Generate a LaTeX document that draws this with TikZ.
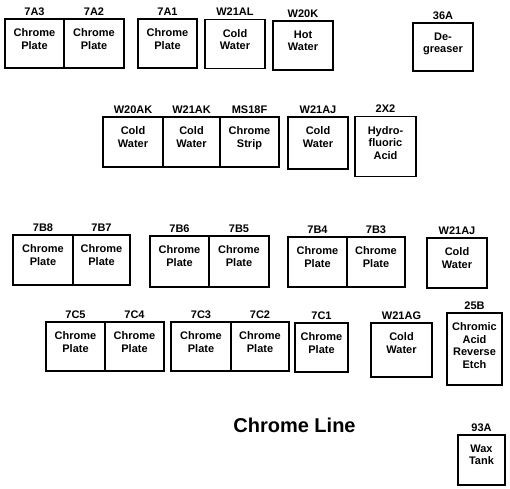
\documentclass[tikz,border=0pt]{standalone}
\usepackage{fontspec}
\setmainfont{Liberation Sans}
\tikzset{
  tankbox/.style={draw=black, line width=1.8pt, rectangle, inner sep=0pt, fill=none},
  tanklabel/.style={anchor=south, inner sep=0pt, yshift=2.5pt, font=\fontsize{11}{12}\selectfont\bfseries},
  tanktext/.style={anchor=north, inner sep=0pt, align=center, font=\fontsize{11}{12.5}\selectfont\bfseries},
  titletext/.style={inner sep=0pt, font=\fontsize{20}{24}\selectfont\bfseries}
}
\newcommand\tank[7]{%
  \node[tankbox, minimum width=#4pt, minimum height=#5pt] (#1) at (#2,#3) {};
  \node[tanklabel] (#1-l) at (#1.north) {#6};
  \node[tanktext] (#1-t) at ([yshift=-10.5pt]#1.north) {#7};
}
\begin{document}
\begin{tikzpicture}[x=1pt,y=-1pt]
\useasboundingbox[fill=white] (0,0) rectangle (510,488);
% Row 1
\tank{a3}{34.5}{43.5}{59}{49}{7A3}{Chrome\\Plate}
\tank{a2}{94}{43.5}{60}{49}{7A2}{Chrome\\Plate}
\tank{a1}{167.5}{43.5}{59}{49}{7A1}{Chrome\\Plate}
\tank{wal}{235}{44}{60}{49}{W21AL}{Cold\\Water}
\tank{wk}{303}{45.5}{60}{49}{W20K}{Hot\\Water}
\tank{dg}{443}{47}{60}{48}{36A}{De-\\greaser}
% Row 2
\tank{wak0}{133}{142}{60}{50}{W20AK}{Cold\\Water}
\tank{wak1}{191.5}{142}{57}{50}{W21AK}{Cold\\Water}
\tank{ms}{249.5}{142}{59}{50}{MS18F}{Chrome\\Strip}
\tank{waj1}{318}{143}{60}{52}{W21AJ}{Cold\\Water}
\tank{hf}{385.5}{146.5}{61}{60}{2X2}{Hydro-\\fluoric\\Acid}
% Row 3
\tank{b8}{43}{260}{60}{50}{7B8}{Chrome\\Plate}
\tank{b7}{101.5}{260}{57}{50}{7B7}{Chrome\\Plate}
\tank{b6}{179.5}{261.5}{59}{51}{7B6}{Chrome\\Plate}
\tank{b5}{239}{261.5}{60}{51}{7B5}{Chrome\\Plate}
\tank{b4}{317.5}{262}{59}{50}{7B4}{Chrome\\Plate}
\tank{b3}{376}{262}{58}{50}{7B3}{Chrome\\Plate}
\tank{waj2}{457}{263}{60}{50}{W21AJ}{Cold\\Water}
% Row 4
\tank{c5}{75.5}{346.5}{59}{49}{7C5}{Chrome\\Plate}
\tank{c4}{134.5}{346.5}{59}{49}{7C4}{Chrome\\Plate}
\tank{c3}{201}{346.5}{60}{49}{7C3}{Chrome\\Plate}
\tank{c2}{260}{346.5}{58}{49}{7C2}{Chrome\\Plate}
\tank{c1}{321.5}{347.5}{53}{49}{7C1}{Chrome\\Plate}
\tank{wag}{401.5}{350}{61}{54}{W21AG}{Cold\\Water}
\tank{ca}{474.5}{349}{55}{72}{25B}{Chromic\\Acid\\Reverse\\Etch}
% Wax tank
\tank{wax}{481.5}{460}{47}{50}{93A}{Wax\\Tank}
% Title
\node[titletext] (title) at (294.5,425) {Chrome Line};
\end{tikzpicture}
\end{document}
